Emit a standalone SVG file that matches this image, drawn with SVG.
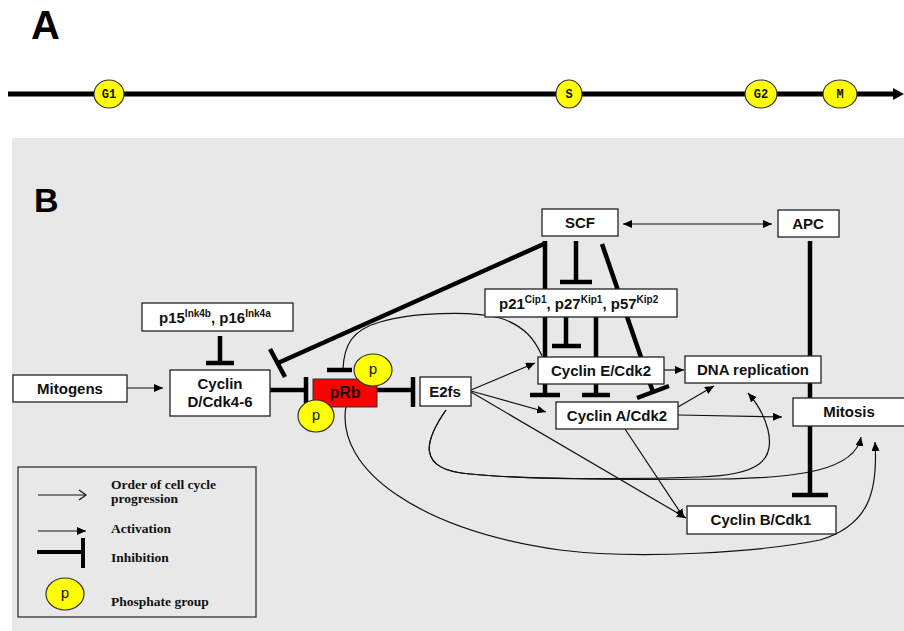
<svg xmlns="http://www.w3.org/2000/svg" width="904" height="631" viewBox="0 0 904 631">
<style>
.box{fill:#fff;stroke:#222;stroke-width:1.3}
.lbl{font-family:"Liberation Sans",Arial,sans-serif;font-weight:bold;font-size:15px;fill:#111;text-anchor:middle}
.sup{font-size:10px}
.thin{fill:none;stroke:#111;stroke-width:1.2}
.thick{fill:none;stroke:#000;stroke-width:4.5}
.bar{fill:none;stroke:#000;stroke-width:4.5}
.ph{fill:#ffff00;stroke:#333;stroke-width:1.2}
.pt{font-family:"Liberation Mono","Courier New",monospace;font-size:15px;fill:#111;text-anchor:middle}
.tl{font-family:"Liberation Mono","Courier New",monospace;font-size:12px;font-weight:bold;fill:#111;text-anchor:middle}
.leg{font-family:"Liberation Serif","Times New Roman",serif;font-weight:bold;font-size:13.5px;fill:#111}
.big{font-family:"Liberation Sans",Arial,sans-serif;font-weight:bold;fill:#000}
</style>
<defs>
<marker id="arr" markerUnits="userSpaceOnUse" markerWidth="10" markerHeight="8" refX="9" refY="4" orient="auto-start-reverse">
<path d="M0,0 L9,4 L0,8 z" fill="#000"/>
</marker>
<marker id="open" markerUnits="userSpaceOnUse" markerWidth="10" markerHeight="12" refX="8" refY="6" orient="auto">
<path d="M1,1 L8,6 L1,11" fill="none" stroke="#111" stroke-width="1.2"/>
</marker>
</defs>

<rect x="0" y="0" width="904" height="631" fill="#fff"/>
<rect x="12" y="138" width="892" height="493" fill="#e8e8e8"/>

<!-- Panel A -->
<text class="big" x="31" y="39" font-size="40">A</text>
<g id="timeline">
<line x1="8" y1="94" x2="896" y2="94" stroke="#000" stroke-width="5"/>
<polygon points="893,88 904,94 893,100" fill="#000"/>
<ellipse class="ph" cx="109" cy="94" rx="15" ry="14"/>
<text class="tl" x="109" y="98">G1</text>
<ellipse class="ph" cx="569" cy="94" rx="13" ry="14"/>
<text class="tl" x="569" y="98">S</text>
<ellipse class="ph" cx="761" cy="94" rx="16" ry="14"/>
<text class="tl" x="761" y="98">G2</text>
<ellipse class="ph" cx="840" cy="94" rx="17" ry="14"/>
<text class="tl" x="840" y="98">M</text>
</g>

<!-- Panel B -->
<text class="big" x="34" y="212" font-size="34">B</text>

<g id="connectors">
<line class="thin" x1="127" y1="388" x2="163" y2="388" marker-end="url(#arr)"/>
<line class="thin" x1="623" y1="224" x2="772" y2="224" marker-start="url(#arr)" marker-end="url(#arr)"/>
<line class="thin" x1="471" y1="390" x2="535" y2="363" marker-end="url(#arr)"/>
<line class="thin" x1="471" y1="391" x2="546" y2="412" marker-end="url(#arr)"/>
<line class="thin" x1="471" y1="392" x2="686" y2="518" marker-end="url(#arr)"/>
<line class="thin" x1="664" y1="370" x2="684" y2="370" marker-end="url(#arr)"/>
<line class="thin" x1="678" y1="407" x2="714" y2="386" marker-end="url(#arr)"/>
<line class="thin" x1="678" y1="415" x2="782" y2="417" marker-end="url(#arr)"/>
<line class="thin" x1="625" y1="429" x2="684" y2="518" marker-end="url(#arr)"/>
<path class="thin" d="M343,369 C344,345 352,330 380,322 C410,313 470,310 500,318 C525,326 535,340 542,356"/>
<path class="thin" d="M346,406 C335,470 420,530 560,550 C640,560 760,552 820,540 C870,525 878,490 875,442" marker-end="url(#arr)"/>
<path class="thin" d="M446,410 C425,440 415,470 470,474 C520,479 620,480 720,479 C800,478 855,470 861,437" marker-end="url(#arr)"/>
<path class="thin" d="M446,410 C425,440 415,470 470,474 C520,479 620,480 700,477 C760,475 775,460 768,430 C764,414 756,402 748,393" marker-end="url(#arr)"/>
<line class="bar" x1="220" y1="336" x2="220" y2="363"/>
<line class="bar" x1="206" y1="363" x2="234" y2="363"/>
<line class="bar" x1="270" y1="390" x2="306" y2="390"/>
<line class="bar" x1="306" y1="377" x2="306" y2="403"/>
<line class="bar" x1="377" y1="390" x2="413" y2="390"/>
<line class="bar" x1="413" y1="377" x2="413" y2="407"/>
<line class="bar" x1="327" y1="370" x2="352" y2="370"/>
<line class="thick" x1="546" y1="243" x2="278" y2="363"/>
<line class="bar" x1="270" y1="349" x2="285" y2="377"/>
<line class="thick" x1="545" y1="241" x2="545" y2="395"/>
<line class="bar" x1="530" y1="395" x2="560" y2="395"/>
<line class="thick" x1="576" y1="241" x2="576" y2="282"/>
<line class="bar" x1="560" y1="282" x2="592" y2="282"/>
<line class="thick" x1="602" y1="244" x2="653" y2="392"/>
<line class="bar" x1="637" y1="398" x2="669" y2="386"/>
<line class="thick" x1="566" y1="317" x2="566" y2="346"/>
<line class="bar" x1="552" y1="346" x2="581" y2="346"/>
<line class="thick" x1="596" y1="317" x2="596" y2="395"/>
<line class="bar" x1="582" y1="395" x2="610" y2="395"/>
<line class="thick" x1="810" y1="241" x2="810" y2="495"/>
<line class="bar" x1="792" y1="495" x2="828" y2="495"/>
</g>

<g id="mitogens"><rect class="box" x="13" y="375" width="114" height="27"/><text class="lbl" x="70" y="394">Mitogens</text></g>
<g id="p15p16"><rect class="box" x="142" y="303" width="151" height="28"/><text class="lbl" x="159" y="323" style="text-anchor:start">p15<tspan class="sup" dy="-6">Ink4b</tspan><tspan dy="6">, p16</tspan><tspan class="sup" dy="-6">Ink4a</tspan></text></g>
<g id="cyclinD"><rect class="box" x="170" y="370" width="100" height="46"/><text class="lbl" x="220" y="389">Cyclin</text><text class="lbl" x="220" y="407">D/Cdk4-6</text></g>
<g id="pRb"><rect x="313" y="379" width="64" height="28" fill="#ff0000" stroke="#333" stroke-width="1"/><text class="lbl" x="345" y="398" style="font-size:16px;fill:#1a0000">pRb</text>
<ellipse class="ph" cx="373" cy="370" rx="19" ry="16"/><text class="pt" x="373" y="374">p</text>
<ellipse class="ph" cx="316" cy="416" rx="18" ry="16"/><text class="pt" x="316" y="420">p</text></g>
<g id="E2fs"><rect class="box" x="420" y="377" width="51" height="29"/><text class="lbl" x="445" y="397">E2fs</text></g>
<g id="SCF"><rect class="box" x="542" y="209" width="76" height="27"/><text class="lbl" x="580" y="228">SCF</text></g>
<g id="APC"><rect class="box" x="778" y="210" width="61" height="27"/><text class="lbl" x="808" y="229">APC</text></g>
<g id="p21p27p57"><rect class="box" x="485" y="289" width="192" height="28"/><text class="lbl" x="499" y="309" style="text-anchor:start">p21<tspan class="sup" dy="-6">Cip1</tspan><tspan dy="6">, p27</tspan><tspan class="sup" dy="-6">Kip1</tspan><tspan dy="6">, p57</tspan><tspan class="sup" dy="-6">Kip2</tspan></text></g>
<g id="cyclinE"><rect class="box" x="538" y="357" width="126" height="27"/><text class="lbl" x="601" y="376">Cyclin E/Cdk2</text></g>
<g id="dnaReplication"><rect class="box" x="685" y="356" width="136" height="27"/><text class="lbl" x="753" y="375">DNA replication</text></g>
<g id="cyclinA"><rect class="box" x="556" y="402" width="122" height="27"/><text class="lbl" x="617" y="421">Cyclin A/Cdk2</text></g>
<g id="mitosis"><rect class="box" x="793" y="398" width="115" height="28"/><text class="lbl" x="849" y="417">Mitosis</text></g>
<g id="cyclinB"><rect class="box" x="687" y="506" width="149" height="28"/><text class="lbl" x="761" y="525">Cyclin B/Cdk1</text></g>

<g id="legend">
<rect x="18" y="467" width="238" height="150" fill="none" stroke="#333" stroke-width="1.3"/>
<line x1="38" y1="495" x2="86" y2="495" stroke="#111" stroke-width="1.1" marker-end="url(#open)"/>
<text class="leg" x="111" y="489">Order  of cell cycle</text>
<text class="leg" x="111" y="503">progression</text>
<line x1="38" y1="531" x2="86" y2="531" stroke="#111" stroke-width="1.2" marker-end="url(#arr)"/>
<text class="leg" x="111" y="533">Activation</text>
<line x1="37" y1="552" x2="83" y2="552" stroke="#000" stroke-width="4"/>
<line x1="83" y1="538" x2="83" y2="568" stroke="#000" stroke-width="4"/>
<text class="leg" x="111" y="562">Inhibition</text>
<ellipse class="ph" cx="65" cy="594" rx="19" ry="16"/><text class="pt" x="65" y="598">p</text>
<text class="leg" x="111" y="606">Phosphate  group</text>
</g>
</svg>
